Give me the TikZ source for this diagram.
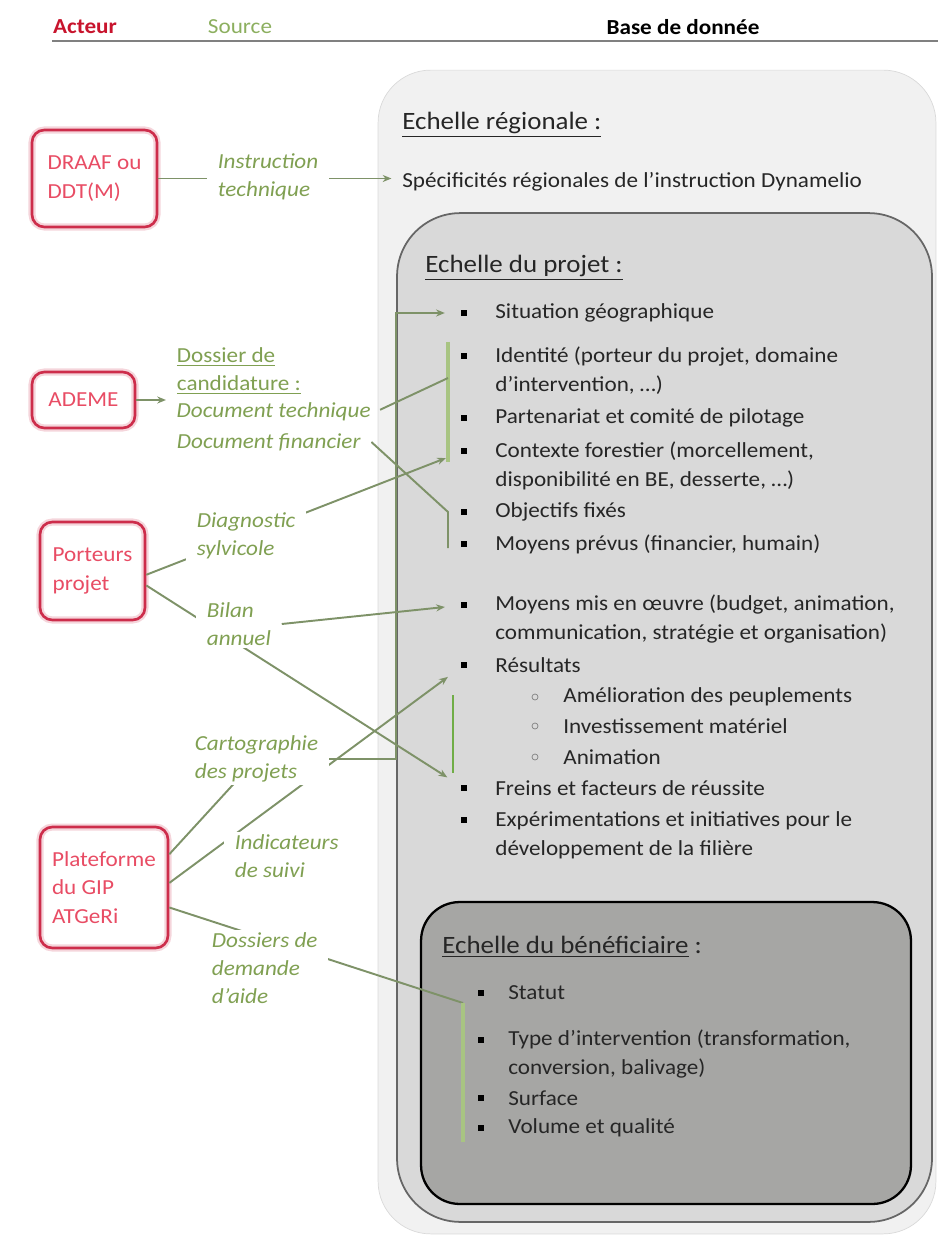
\documentclass[tikz,border=0pt]{standalone}
\usepackage{fontspec}
\setmainfont{Carlito}[FakeStretch=1.08]
\usetikzlibrary{arrows.meta}

\definecolor{rouge}{RGB}{205,45,75}
\definecolor{rougetxt}{RGB}{232,76,100}
\definecolor{rougetitre}{RGB}{200,20,45}
\definecolor{vert}{RGB}{128,160,82}
\definecolor{verttitre}{RGB}{140,175,95}
\definecolor{vertlien}{RGB}{126,146,104}
\definecolor{vertvif}{RGB}{112,173,71}
\definecolor{vertpale}{RGB}{168,196,130}
\definecolor{gristxt}{RGB}{38,38,38}
\definecolor{fondA}{RGB}{241,241,241}
\definecolor{fondB}{RGB}{217,217,217}
\definecolor{fondC}{RGB}{166,166,164}

\pgfdeclarelayer{etiquettes}
\pgfsetlayers{main,etiquettes}

\begin{document}
\begin{tikzpicture}[x=0.02cm, y=-0.02cm,
  font=\fontsize{12.2}{16.4}\selectfont,
  acteur/.style={draw=rouge, line width=1.5pt, rounded corners=7pt, text=rougetxt,
    align=left, inner sep=0pt, preaction={draw=rouge!20, line width=4pt}},
  source/.style={text=vert, font=\fontsize{12.2}{16}\selectfont\itshape, align=left,
    inner xsep=6pt, inner ysep=1.5pt, fill=white, anchor=west},
  item/.style={text=gristxt, align=left, inner sep=0pt, anchor=west},
  titre/.style={text=gristxt, font=\fontsize{14.2}{16}\selectfont, inner sep=0pt, anchor=west},
  puce/.style={fill=black, inner sep=0pt, minimum size=3.4pt},
  lien/.style={draw=vertlien, line width=1.1pt},
  fleche/.style={lien, -{Stealth[length=5pt,width=4pt]}, shorten >=9pt},
  accolade/.style={draw=vertpale, line width=2pt}]

  \useasboundingbox (0,0) rectangle (938,1236);

  % en-tete
  \node[font=\fontsize{12.2}{14}\selectfont\bfseries, text=rougetitre] (acteur) at (85,27) {Acteur};
  \node[text=verttitre] (source) at (240,27) {Source};
  \node[font=\fontsize{12.2}{14}\selectfont\bfseries] (base) at (683,27) {Base de donnée};
  \coordinate (hg) at (52,41);
  \coordinate (hd) at (938,41);
  \draw[gray, line width=1pt] (hg) -- (hd);

  % cadres
  \node[draw=black!15, fill=fondA, rounded corners=30pt, minimum width=11.16cm,
    minimum height=23.28cm] (region) at (657,652) {};
  \node[draw=black!60, line width=1pt, fill=fondB, rounded corners=36pt, minimum width=10.7cm,
    minimum height=20.18cm] (projet) at (664.5,717.5) {};
  \node[draw=black, line width=1.3pt, fill=fondC, rounded corners=22pt, minimum width=9.8cm,
    minimum height=6.04cm] (benef) at (666,1053) {};

  % echelle regionale
  \node[titre] (treg) at (402,125) {\underline{Echelle régionale :}};
  \node[item] (spec) at (402,182) {Spécificités régionales de l’instruction Dynamelio};

  % echelle du projet
  \node[titre] (tproj) at (425,268) {\underline{Echelle du projet :}};
  \foreach \y in {313,356,418,451,512,544,605,665,788,820}
    \node[puce] (p\y) at (464,\y) {};
  \foreach \y in {697,726,757}
    \draw[gray] (535,\y) circle (3);
  \node[item] (sit) at (495,313) {Situation géographique};
  \node[item] (ident) at (495,370.5) {Identité (porteur du projet, domaine\\d’intervention, …)};
  \node[item] (part) at (495,418) {Partenariat et comité de pilotage};
  \node[item] (ctx) at (495,466) {Contexte forestier (morcellement,\\disponibilité en BE, desserte, …)};
  \node[item] (obj) at (495,512) {Objectifs fixés};
  \node[item] (moyp) at (495,544) {Moyens prévus (financier, humain)};
  \node[item] (moym) at (495,619) {Moyens mis en œuvre (budget, animation,\\communication, stratégie et organisation)};
  \node[item] (res) at (495,665) {Résultats};
  \node[item] (amel) at (563,697) {Amélioration des peuplements};
  \node[item] (inv) at (563,726) {Investissement matériel};
  \node[item] (anim) at (563,757) {Animation};
  \node[item] (freins) at (495,788) {Freins et facteurs de réussite};
  \node[item] (exper) at (495,835.5) {Expérimentations et initiatives pour le\\développement de la filière};

  % echelle du beneficiaire
  \node[titre] (tbenef) at (442,947) {\underline{Echelle du bénéficiaire} :};
  \foreach \y in {993,1040,1098,1128}
    \node[puce] (p\y) at (481,\y) {};
  \node[item] (statut) at (508,993) {Statut};
  \node[item] (type) at (508,1054) {Type d’intervention (transformation,\\conversion, balivage)};
  \node[item] (surf) at (508,1098) {Surface};
  \node[item] (vol) at (508,1128) {Volume et qualité};

  % acteurs
  \node[acteur, minimum width=2.5cm, minimum height=1.94cm] (draaf) at (94.5,178.5) {DRAAF ou\\DDT(M)};
  \node[acteur, minimum width=2.06cm, minimum height=1.12cm] (ademe) at (83.5,400) {ADEME};
  \node[acteur, minimum width=2.1cm, minimum height=1.96cm] (porteurs) at (92.5,571) {Porteurs\\projet};
  \node[acteur, minimum width=2.56cm, minimum height=2.42cm] (gip) at (104,887.5) {Plateforme\\du GIP\\ATGeRi};

  % sources
  \begin{pgfonlayer}{etiquettes}
    \node[source] (instr) at (207,177) {Instruction\\technique};
    \node[source, font=\fontsize{12.2}{16}\selectfont] (doss) at (166,371) {\underline{Dossier de}\\\underline{candidature :}};
    \node[source, inner xsep=2.5pt] (doctech) at (172,412) {Document technique};
    \node[source] (docfin) at (166,442) {Document financier};
    \node[source] (diag) at (186,536) {Diagnostic\\sylvicole};
    \node[source] (bilan) at (196,624) {Bilan\\annuel};
    \node[source] (carto) at (184,759) {Cartographie\\des projets};
    \node[source] (indic) at (224,856) {Indicateurs\\de suivi};
    \node[source] (dossdem) at (201,968) {Dossiers de\\demande\\d’aide};
  \end{pgfonlayer}

  \coordinate (acc1h) at (448,342);
  \coordinate (acc1m) at (448,378);
  \coordinate (acc1b) at (448,462);
  \coordinate (acc2h) at (448,512);
  \coordinate (acc2b) at (448,548);
  \coordinate (acc3h) at (463,1003);
  \coordinate (acc3b) at (463,1142);
  \coordinate (acc4h) at (453,695);
  \coordinate (acc4b) at (453,773);

  % liens
  \draw[fleche, shorten >=6pt] (draaf.east) -- (draaf.east -| spec.west);
  \draw[fleche, shorten >=0pt] (ademe.east) -- (ademe.east -| doss.west);
  \draw[accolade] (acc1h) -- (acc1b);
  \draw[lien, shorten <=3pt] (doctech.east) -- (acc1m);
  \draw[lien] (docfin.east) -- (acc2h) -- (acc2b);
  \draw[fleche] (porteurs.-4) -- (p451);
  \draw[fleche] (porteurs.-15) -- (p788);
  \draw[fleche] (bilan.east) -- (p605);
  \draw[lien] (gip.27) -- (carto.center);
  \draw[fleche] (carto.east) -- (carto.east -| projet.west) |- (p313);
  \draw[fleche] (gip.4) -- (p665);
  \draw[vertvif, line width=0.8pt] (acc4h) -- (acc4b);
  \draw[lien] (gip.-17) -- (acc3h);
  \draw[accolade] (acc3h) -- (acc3b);

\end{tikzpicture}
\end{document}
